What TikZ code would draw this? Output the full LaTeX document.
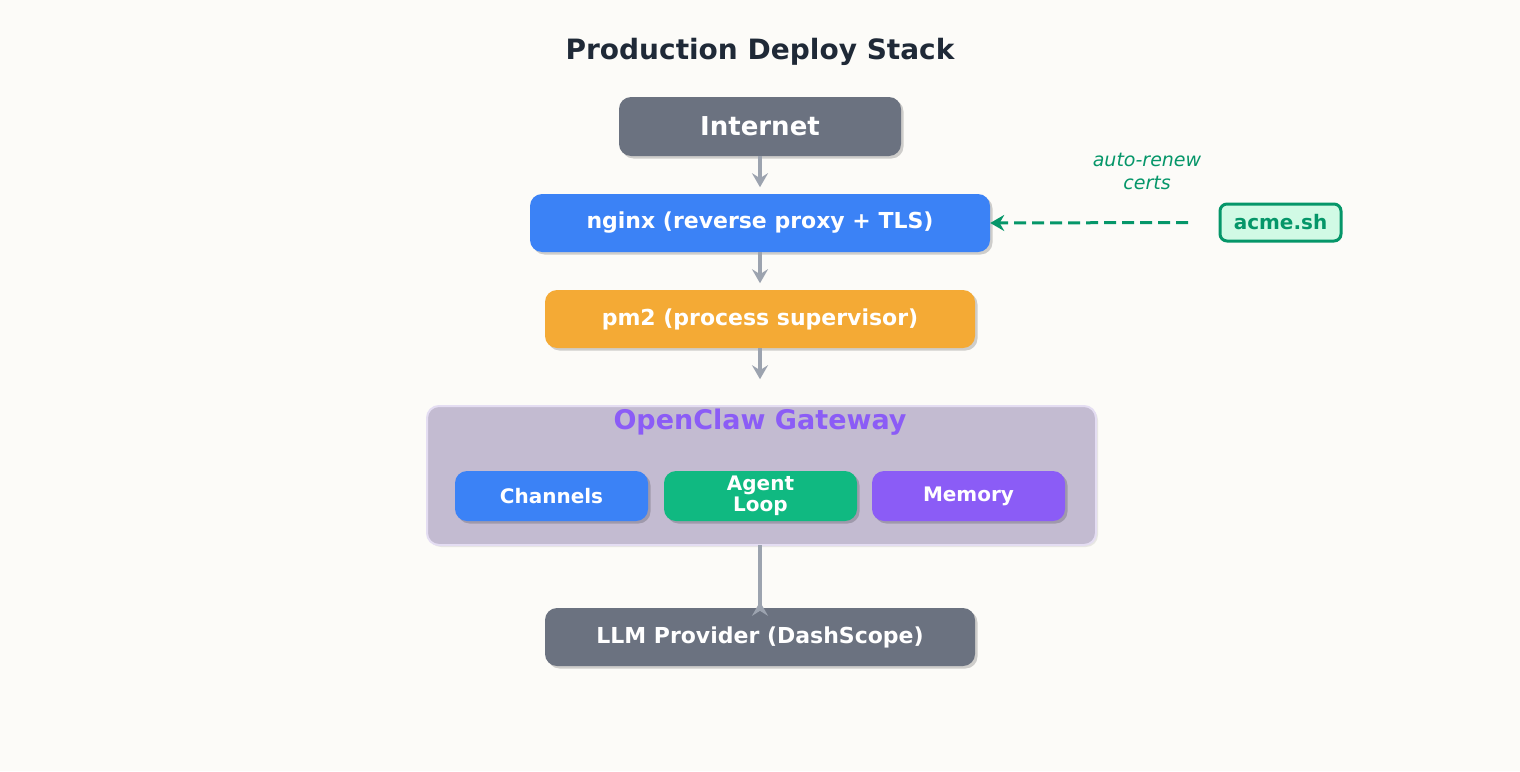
\documentclass[tikz,border=0pt]{standalone}
\usepackage{fontspec}
\setmainfont{DejaVu Sans}
\usetikzlibrary{shadows,arrows.meta}
\definecolor{bg}{HTML}{FCFBF8}
\definecolor{titlec}{HTML}{1F2937}
\definecolor{grayb}{HTML}{6B7280}
\definecolor{blueb}{HTML}{3B82F6}
\definecolor{orangeb}{HTML}{F4AA35}
\definecolor{greenb}{HTML}{10B981}
\definecolor{purpleb}{HTML}{8B5CF6}
\definecolor{gwfill}{HTML}{C3BBD1}
\definecolor{gwline}{HTML}{E4DDF2}
\definecolor{arrowc}{HTML}{9CA3AF}
\definecolor{acme}{HTML}{059669}
\definecolor{acmefill}{HTML}{D1FAE5}
\tikzset{
  box/.style={rounded corners=12pt, text=white, font=\bfseries, inner sep=0pt, align=center,
    drop shadow={shadow xshift=2.5pt, shadow yshift=-2.5pt, fill=black, opacity=0.18}},
  flow/.style={draw=arrowc, line width=4pt, -{Stealth[length=14pt,width=16pt,inset=5pt]}},
}
\begin{document}
\begin{tikzpicture}[x=1pt,y=-1pt]
\fill[bg] (0,0) rectangle (1520,771);
\useasboundingbox (0,0) rectangle (1520,771);
\node[font=\bfseries\fontsize{28}{32}\selectfont, text=titlec] (title) at (760,52) {Production Deploy Stack};
\node[box, fill=grayb, minimum width=282pt, minimum height=59pt, font=\bfseries\fontsize{26}{30}\selectfont] (inet) at (760,126.5) {Internet};
\node[box, fill=blueb, minimum width=460pt, minimum height=58pt, font=\bfseries\fontsize{22}{26}\selectfont] (nginx) at (760,223) {nginx (reverse proxy + TLS)};
\node[box, fill=orangeb, minimum width=430pt, minimum height=58pt, font=\bfseries\fontsize{22}{26}\selectfont] (pm2) at (760,319) {pm2 (process supervisor)};
\node[rounded corners=12pt, fill=gwfill, draw=gwline, line width=2pt, minimum width=669pt, minimum height=139pt, inner sep=0pt,
  drop shadow={shadow xshift=2pt, shadow yshift=-2pt, fill=black, opacity=0.08}] (gw) at (761.5,475.5) {};
\node[font=\bfseries\fontsize{27}{30}\selectfont, text=purpleb] (gwt) at (760,422) {OpenClaw Gateway};
\node[box, fill=blueb, minimum width=193pt, minimum height=50pt, font=\bfseries\fontsize{20}{21}\selectfont] (ch) at (551.5,496) {Channels};
\node[box, fill=greenb, minimum width=193pt, minimum height=50pt, font=\bfseries\fontsize{20}{21}\selectfont] (al) at (760.5,496) {Agent\\Loop};
\node[box, fill=purpleb, minimum width=193pt, minimum height=50pt, font=\bfseries\fontsize{20}{21}\selectfont] (mem) at (968.5,496) {Memory};
\node[box, fill=grayb, minimum width=430pt, minimum height=58pt, font=\bfseries\fontsize{22}{26}\selectfont] (llm) at (760,637) {LLM Provider (DashScope)};
\node[rounded corners=7pt, draw=acme, line width=3pt, fill=acmefill, text=acme, font=\bfseries\fontsize{20}{22}\selectfont,
  minimum width=121pt, minimum height=37pt, inner sep=0pt] (acme) at (1280.5,222.5) {acme.sh};
\coordinate (acmeL) at (1188,222.5);
\node[text=acme, font=\itshape\fontsize{19}{23}\selectfont, align=center] (lbl) at (1147,171) {auto-renew\\certs};
\draw[flow] (inet.south) -- ++(0,31);
\draw[flow] (nginx.south) -- ++(0,31);
\draw[flow] (pm2.south) -- ++(0,31);
\draw[flow] (760,545) -- (llm.north) ++(0,-6) coordinate (x);
\draw[draw=acme, line width=3pt, dash pattern=on 12pt off 6pt, -{Stealth[length=14pt,width=16pt]}] (acmeL) -- (nginx.east);
\end{tikzpicture}
\end{document}
